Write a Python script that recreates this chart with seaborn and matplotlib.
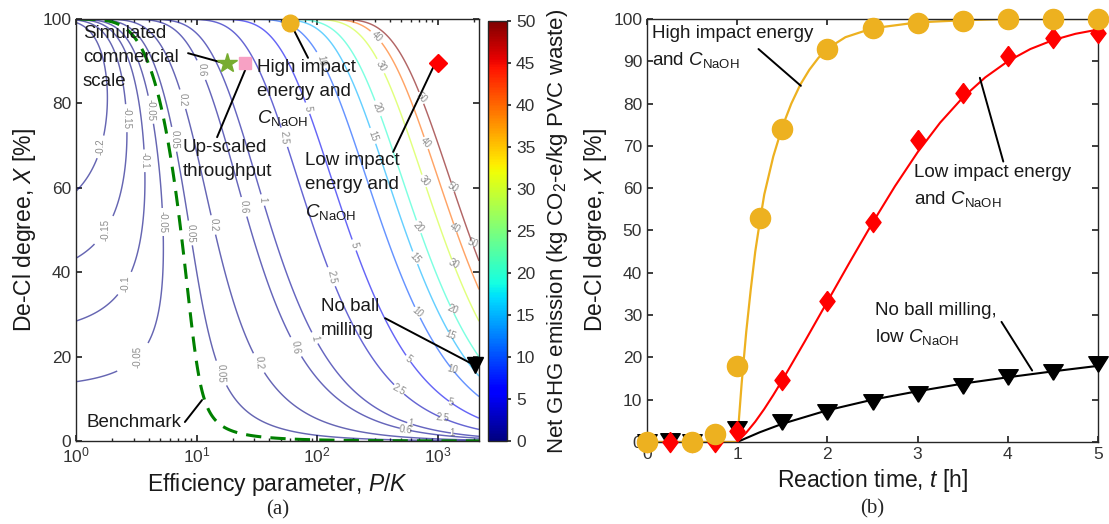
import numpy as np
import matplotlib
matplotlib.use('Agg')
import matplotlib.pyplot as plt
import matplotlib.colors as mcolors
import matplotlib.cm as cm
import seaborn as sns

# --- (a) emission map: levels and simple surface parameters ---
pk_max = 2200
emission_levels = [-0.2, -0.15, -0.1, -0.05, 0.05, 0.2, 0.6, 1, 2.5, 5, 10, 15, 20, 30, 40, 50]
benchmark_level = 0.01
energy_coef = 0.041   # kg CO2-e per (P/K) per unit of -ln(1-X)
credit_coef = 0.4     # kg CO2-e credit per unit de-Cl fraction

case_pk = [18, 25, 60, 1000, 2050]
case_x = [89.5, 89.5, 99, 89.5, 18]

# --- (b) de-chlorination kinetics ---
t_high = [0, 0.5, 0.75, 1, 1.25, 1.5, 2, 2.5, 3, 3.5, 4, 4.5, 5]
x_high = [0, 0, 1.8, 18, 53, 74, 93, 97.8, 99, 99.5, 100, 100, 100]
t_low = [0, 0.25, 0.5, 0.75, 1, 1.5, 2, 2.5, 3, 3.5, 4, 4.5, 5]
x_low = [0, 0, 0, 0, 2.7, 14.7, 33.3, 52, 71.3, 82.4, 91.3, 95.5, 96.6]
t_none = [0, 0.25, 0.5, 0.75, 1, 1.5, 2, 2.5, 3, 3.5, 4, 4.5, 5]
x_none = [0, 0.3, 0, 0, 3.0, 4.7, 7.1, 9.4, 11.3, 13.3, 15.3, 16.6, 18.4]

tfit_high = [0, 1.0, 1.05, 1.1, 1.15, 1.2, 1.25, 1.3, 1.4, 1.5, 1.6, 1.7, 1.8, 1.9, 2.0, 2.2, 2.5, 3.0, 3.5, 4.0, 5.0]
xfit_high = [0, 0, 14, 26, 36, 45, 52, 58.5, 67.5, 74.5, 80, 84.5, 88, 90.8, 93, 95.7, 97.8, 99.2, 99.7, 100, 100]
tfit_low = [0, 1.0, 1.1, 1.2, 1.3, 1.4, 1.5, 1.75, 2.0, 2.25, 2.5, 2.75, 3.0, 3.25, 3.5, 3.75, 4.0, 4.25, 4.5, 4.75, 5.0]
xfit_low = [0, 0, 2.2, 4.8, 7.8, 11.1, 14.6, 23.8, 33.2, 42.6, 51.8, 60.5, 68.5, 75.5, 81.4, 86.2, 90.0, 92.9, 95.0, 96.5, 97.5]
tfit_none = [0, 1.0, 1.25, 1.5, 2.0, 2.5, 3.0, 3.5, 4.0, 4.5, 5.0]
xfit_none = [0, 0, 2.3, 4.3, 7.5, 10.0, 12.0, 13.8, 15.3, 16.7, 18.0]

YELLOW = '#EDB120'
RED = '#FF0000'
GREEN = '#77AC30'
PINK = '#F7A1C4'
INK = '0.15'

sns.set_theme(style='ticks')
plt.rcParams['font.family'] = ['Liberation Sans', 'DejaVu Sans']
plt.rcParams.update({
    'mathtext.fontset': 'custom',
    'mathtext.rm': 'Liberation Sans',
    'mathtext.it': 'Liberation Sans:italic',
    'mathtext.bf': 'Liberation Sans:bold',
    'axes.edgecolor': INK, 'axes.linewidth': 1.0,
    'xtick.color': INK, 'ytick.color': INK,
    'xtick.labelcolor': '0.2', 'ytick.labelcolor': '0.2',
    'xtick.direction': 'in', 'ytick.direction': 'in',
    'xtick.top': True, 'ytick.right': True,
    'xtick.labelsize': 12.5, 'ytick.labelsize': 12.5,
    'xtick.major.size': 4, 'ytick.major.size': 4,
    'xtick.minor.size': 2.5, 'ytick.minor.size': 2.5,
})

W, H = 1109, 524
fig = plt.figure(figsize=(W / 100, H / 100), dpi=100)
ax1 = fig.add_axes([76 / W, 1 - 441 / H, 403 / W, 422 / H])
cax = fig.add_axes([488 / W, 1 - 441 / H, 19 / W, 420 / H])
ax2 = fig.add_axes([647 / W, 1 - 442 / H, 451 / W, 423 / H])

LABEL_FS = 16.5

# ---------------- panel (a) ----------------
pk = np.logspace(0, np.log10(pk_max), 600)
frac = np.linspace(0, 0.9999, 800)
PK, FR = np.meshgrid(pk, frac)
Z = energy_coef * PK * (-np.log1p(-FR)) - credit_coef * FR

norm = mcolors.Normalize(0, 50)
cs = ax1.contour(PK, FR * 100, Z, levels=emission_levels, cmap='jet', norm=norm,
                 alpha=0.6, linewidths=1.05)
bench = ax1.contour(PK, FR * 100, Z, levels=[benchmark_level], colors='#008000',
                    linewidths=2.2, linestyles=[(0, (5, 3))])

label_spots = [
    (116, 90.3), (90, 78.9), (321, 96.2), (366, 89.6), (333, 79.1), (303, 72.5),
    (759, 82.5), (818, 71.3), (787, 62.3), (1345, 61.1), (1397, 50.5), (1932, 46),
    (1345, 41.7), (689, 50.5), (650, 43.4), (1318, 31), (1270, 24.4), (676, 30.3),
    (1318, 16.1), (199, 46.4), (128, 38.9), (92.6, 24.4), (558, 18.7), (470, 11.4),
    (1270, 8.5), (1089, 4.5), (56.4, 72), (35.6, 57.1), (24.3, 55.5), (63.2, 22.3),
    (11.3, 87.9), (13.7, 51.2), (32.4, 18.5), (7.58, 81.0), (8.83, 49.3), (16.6, 16.1),
    (5.69, 71.5), (5.17, 51.9), (3.74, 19.9), (3.88, 78.5), (3.74, 66.4), (2.65, 37.4),
    (1.81, 50), (2.65, 76.5), (1.67, 69.7), (590, 4.3), (537, 2.6), (1318, 1.9),
]
ax1.clabel(cs, manual=label_spots, fontsize=7, colors='0.25', inline=True,
           inline_spacing=3, fmt=lambda v: f'{v:g}')

ax1.set_xscale('log')
ax1.set_xlim(1, pk_max)
ax1.set_ylim(0, 100)
ax1.set_yticks(range(0, 101, 20))
ax1.set_xlabel('Efficiency parameter, $P/K$', fontsize=LABEL_FS, labelpad=4, color='0.1')
ax1.set_ylabel('De-Cl degree, $X$ [%]', fontsize=LABEL_FS, labelpad=3, color='0.1')

ax1.plot(case_pk[0], case_x[0], marker='*', ms=15, color=GREEN, ls='none', zorder=5)
ax1.plot(case_pk[1], case_x[1], marker='s', ms=8.5, color=PINK, ls='none', zorder=5)
ax1.plot(case_pk[2], case_x[2], marker='o', ms=12, color=YELLOW, ls='none', zorder=5, clip_on=False)
ax1.plot(case_pk[3], case_x[3], marker='D', ms=9, color=RED, ls='none', zorder=5)
ax1.plot(case_pk[4], case_x[4], marker='v', ms=11, color='black', ls='none', zorder=5, clip_on=False)

lead = dict(arrowstyle='-', color='black', lw=1.4, shrinkA=0, shrinkB=0)
txt = dict(fontsize=13.5, color='0.1', va='center', ha='left', linespacing=1.55)
ax1.text(1.14, 90.8, 'Simulated\ncommercial\nscale', **txt)
ax1.annotate('', xy=(16.6, 89.6), xytext=(8.5, 91.9), arrowprops=lead)
ax1.text(31.8, 82.3, 'High impact\nenergy and\n$C_{\\mathrm{NaOH}}$', **txt)
ax1.annotate('', xy=(60, 99), xytext=(84, 90.8), arrowprops=lead)
ax1.text(7.7, 66.8, 'Up-scaled\nthroughput', **txt)
ax1.annotate('', xy=(25.3, 87.9), xytext=(14.8, 72), arrowprops=lead)
ax1.text(79.7, 60.2, 'Low impact\nenergy and\n$C_{\\mathrm{NaOH}}$', **txt)
ax1.annotate('', xy=(955, 89.6), xytext=(427, 68.5), arrowprops=lead)
ax1.text(108, 29, 'No ball\nmilling', **txt)
ax1.annotate('', xy=(1860, 18.5), xytext=(366, 29.1), arrowprops=lead)
ax1.text(1.23, 4.3, 'Benchmark', **txt)
ax1.annotate('', xy=(11.1, 9.7), xytext=(8.0, 4.5), arrowprops=lead)

sm = cm.ScalarMappable(norm=norm, cmap='jet')
cb = fig.colorbar(sm, cax=cax, ticks=range(0, 51, 5))
cb.outline.set_edgecolor(INK)
cax.tick_params(direction='out', length=3, labelsize=12.5, right=True, left=False)
cax.set_ylabel('Net GHG emission (kg CO$_2$-e/kg PVC waste)', fontsize=16, labelpad=7, color='0.1')

# ---------------- panel (b) ----------------
sns.lineplot(x=tfit_none, y=xfit_none, color='black', lw=1.5, ax=ax2, zorder=2)
sns.lineplot(x=tfit_low, y=xfit_low, color=RED, lw=1.5, ax=ax2, zorder=2)
sns.lineplot(x=tfit_high, y=xfit_high, color=YELLOW, lw=1.6, ax=ax2, zorder=2)

tri = [(0, -0.8), (-1, 0.8), (1, 0.8), (0, -0.8)]
dia = [(0, 1), (0.75, 0), (0, -1), (-0.75, 0), (0, 1)]
ax2.plot(t_none, x_none, ls='none', marker=tri, ms=14, color='black', clip_on=False, zorder=3)
ax2.plot(t_low, x_low, ls='none', marker=dia, ms=14.5, color=RED, clip_on=False, zorder=4)
ax2.plot(t_high, x_high, ls='none', marker='o', ms=14.5, color=YELLOW, clip_on=False, zorder=5)

ax2.set_xlim(0, 5)
ax2.set_ylim(0, 100)
ax2.set_xticks(range(0, 6))
ax2.set_yticks(range(0, 101, 10))
ax2.set_xlabel('Reaction time, $t$ [h]', fontsize=LABEL_FS, labelpad=4, color='0.1')
ax2.set_ylabel('De-Cl degree, $X$ [%]', fontsize=LABEL_FS, labelpad=3, color='0.1')

ax2.text(0.055, 93.2, 'High impact energy\nand $C_{\\mathrm{NaOH}}$', **txt)
ax2.annotate('', xy=(1.706, 84.2), xytext=(1.236, 92.9), arrowprops=lead)
ax2.text(2.96, 60.4, 'Low impact energy\nand $C_{\\mathrm{NaOH}}$', **txt)
ax2.annotate('', xy=(3.95, 66.3), xytext=(3.69, 86.1), arrowprops=lead)
ax2.text(2.53, 27.7, 'No ball milling,\nlow $C_{\\mathrm{NaOH}}$', **txt)
ax2.annotate('', xy=(4.27, 16.9), xytext=(3.93, 28.4), arrowprops=lead)

fig.text(278 / W, 1 - 510 / H, '(a)', family='Liberation Serif', fontsize=15, ha='center', va='center')
fig.text(872 / W, 1 - 509 / H, '(b)', family='Liberation Serif', fontsize=15, ha='center', va='center')

fig.savefig('out.png', dpi=100)
